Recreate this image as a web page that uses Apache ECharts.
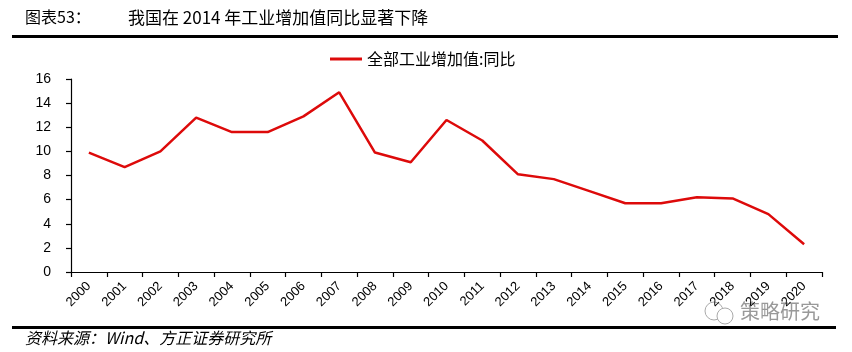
<!DOCTYPE html>
<html>
<head>
<meta charset="utf-8">
<script src="https://cdn.jsdelivr.net/npm/echarts@6/dist/echarts.min.js"></script>
<style>html,body{margin:0;padding:0;background:#fff;}#c{width:852px;height:352px;}</style>
</head>
<body>
<div id="c"></div>
<script>
const categories = ['2000','2001','2002','2003','2004','2005','2006','2007','2008','2009','2010','2011','2012','2013','2014','2015','2016','2017','2018','2019','2020'];
const ivaYoY = [9.9, 8.7, 10.0, 12.8, 11.6, 11.6, 12.9, 14.9, 9.9, 9.1, 12.6, 10.9, 8.1, 7.7, 6.7, 5.7, 5.7, 6.2, 6.1, 4.8, 2.3];
const seriesName = '全部工业增加值:同比';
const yMin = 0, yMax = 16, yStep = 2;

const chart = echarts.init(document.getElementById('c'));
const cjk = '"Noto Sans CJK SC", sans-serif';
chart.setOption({
  animation: false,
  backgroundColor: '#fff',
  legend: {
    left: 330, top: 51, padding: 0,
    icon: 'rect', itemWidth: 32, itemHeight: 3, itemGap: 10,
    textStyle: { fontFamily: cjk, fontSize: 16, color: '#000' },
    data: [seriesName]
  },
  grid: { left: 71, right: 30, top: 79, bottom: 80, containLabel: false },
  xAxis: {
    type: 'category', data: categories, boundaryGap: true,
    axisLine: { lineStyle: { color: '#000', width: 1.2 } },
    axisTick: { show: true, length: 5, inside: false, alignWithLabel: false, lineStyle: { color: '#000', width: 1.2 } },
    axisLabel: { interval: 0, rotate: 45, margin: 12, fontSize: 13, color: '#000', fontFamily: '"Liberation Sans", Arial, sans-serif' },
    splitLine: { show: false }
  },
  yAxis: {
    type: 'value', min: yMin, max: yMax, interval: yStep,
    axisLine: { show: true, lineStyle: { color: '#000', width: 1.2 } },
    axisTick: { show: true, length: 5, inside: false, lineStyle: { color: '#000', width: 1.2 } },
    axisLabel: { margin: 20, fontSize: 14, color: '#000', fontFamily: '"Liberation Sans", Arial, sans-serif' },
    splitLine: { show: false }
  },
  series: [{
    name: seriesName, type: 'line', data: ivaYoY,
    showSymbol: false, symbol: 'none',
    lineStyle: { color: '#dd0a0a', width: 2.5 },
    itemStyle: { color: '#dd0a0a' }
  }],
  graphic: [
    { type: 'text', left: 25, top: 9, style: { text: '图表53：', fontFamily: cjk, fontSize: 16, fill: '#000' } },
    { type: 'text', left: 128, top: 9, style: { text: '我国在 2014 年工业增加值同比显著下降', fontFamily: cjk, fontSize: 17, fill: '#000' } },
    { type: 'rect', shape: { x: 12, y: 35, width: 826, height: 3 }, style: { fill: '#000' } },
    { type: 'rect', shape: { x: 12, y: 326, width: 824, height: 3 }, style: { fill: '#000' } },
    { type: 'text', left: 25, top: 330, style: { text: '资料来源：Wind、方正证券研究所', fontFamily: cjk, fontSize: 16, fontStyle: 'italic', fill: '#000' } },
    { type: 'circle', shape: { cx: 714, cy: 311, r: 9 }, style: { fill: 'none', stroke: '#aaa', lineWidth: 1 } },
    { type: 'circle', shape: { cx: 725, cy: 316, r: 8 }, style: { fill: '#fff', stroke: '#aaa', lineWidth: 1 } },
    { type: 'text', left: 740, top: 301, style: { text: '策略研究', fontFamily: cjk, fontSize: 20, fill: '#999' } }
  ]
});
</script>
</body>
</html>
